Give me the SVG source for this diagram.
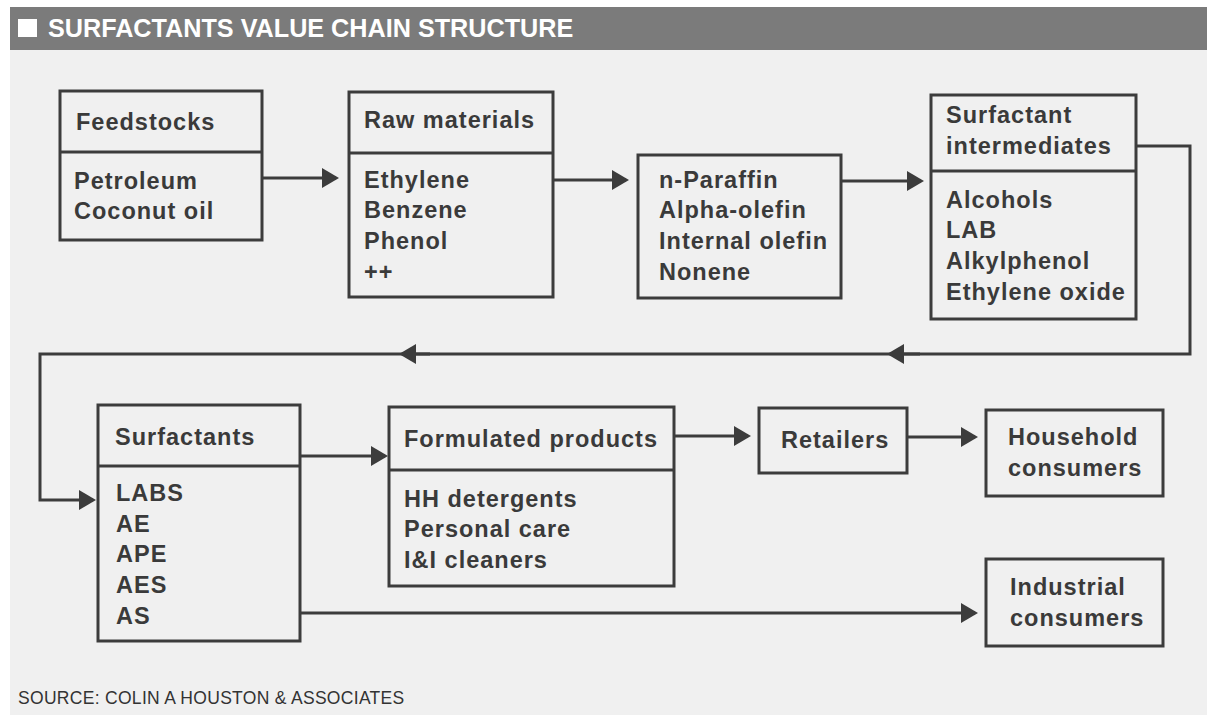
<svg xmlns="http://www.w3.org/2000/svg" width="1207" height="715" viewBox="0 0 1207 715">
  <style>
    .box { fill: none; stroke: #3c3c3c; stroke-width: 3; }
    .div { stroke: #3c3c3c; stroke-width: 3; }
    .t { font-family: "Liberation Sans", Arial, sans-serif; font-size: 23.5px; font-weight: bold; fill: #3a3a3a; letter-spacing: 1px; }
    .conn { fill: none; stroke: #3c3c3c; stroke-width: 3; }
    .title { font-family: "Liberation Sans", Arial, sans-serif; font-size: 25.2px; font-weight: bold; fill: #ffffff; }
    .src { font-family: "Liberation Sans", Arial, sans-serif; font-size: 17.5px; fill: #333; letter-spacing: 0.3px; }
  </style>
  <defs>
    <marker id="ah" markerUnits="userSpaceOnUse" markerWidth="17" markerHeight="20" refX="14" refY="10" orient="auto">
      <path d="M0,0 L17,10 L0,20 z" fill="#3c3c3c"/>
    </marker>
  </defs>
  <rect x="0" y="0" width="1207" height="715" fill="#ffffff"/>
  <rect x="10" y="50" width="1197" height="665" fill="#f0f0f0"/>
  <g id="header">
    <rect x="10" y="7" width="1197" height="43" fill="#7b7b7b"/>
    <rect x="18" y="19" width="19" height="18" fill="#ffffff"/>
    <text class="title" x="48" y="37">SURFACTANTS VALUE CHAIN STRUCTURE</text>
  </g>

  <g id="connectors">
    <line class="conn" x1="263" y1="178" x2="336" y2="178" marker-end="url(#ah)"/>
    <line class="conn" x1="554" y1="180" x2="626" y2="180" marker-end="url(#ah)"/>
    <line class="conn" x1="842" y1="181" x2="921" y2="181" marker-end="url(#ah)"/>
    <path class="conn" d="M1137,146 H1190 V354 H40 V500 H93" marker-end="url(#ah)"/>
    <line class="conn" x1="920" y1="354" x2="890" y2="354" marker-end="url(#ah)"/>
    <line class="conn" x1="430" y1="354" x2="402" y2="354" marker-end="url(#ah)"/>
    <line class="conn" x1="301" y1="456" x2="385" y2="456" marker-end="url(#ah)"/>
    <line class="conn" x1="675" y1="436" x2="748" y2="436" marker-end="url(#ah)"/>
    <line class="conn" x1="908" y1="437" x2="975" y2="437" marker-end="url(#ah)"/>
    <line class="conn" x1="301" y1="613" x2="975" y2="613" marker-end="url(#ah)"/>
  </g>

  <g id="feedstocks">
    <rect class="box" x="60" y="91" width="202" height="149"/>
    <line class="div" x1="60" y1="152" x2="262" y2="152"/>
    <text class="t" x="76" y="130">Feedstocks</text>
    <text class="t" x="74" y="189">Petroleum</text>
    <text class="t" x="74" y="219">Coconut oil</text>
  </g>

  <g id="raw-materials">
    <rect class="box" x="349" y="92" width="204" height="205"/>
    <line class="div" x1="349" y1="153" x2="553" y2="153"/>
    <text class="t" x="364" y="128">Raw materials</text>
    <text class="t" x="364" y="188">Ethylene</text>
    <text class="t" x="364" y="218">Benzene</text>
    <text class="t" x="364" y="249">Phenol</text>
    <text class="t" x="364" y="280">++</text>
  </g>

  <g id="olefins">
    <rect class="box" x="638" y="155" width="203" height="143"/>
    <text class="t" x="659" y="188">n-Paraffin</text>
    <text class="t" x="659" y="218">Alpha-olefin</text>
    <text class="t" x="659" y="249">Internal olefin</text>
    <text class="t" x="659" y="280">Nonene</text>
  </g>

  <g id="intermediates">
    <rect class="box" x="931" y="95" width="205" height="224"/>
    <line class="div" x1="931" y1="171" x2="1136" y2="171"/>
    <text class="t" x="946" y="123">Surfactant</text>
    <text class="t" x="946" y="154">intermediates</text>
    <text class="t" x="946" y="208">Alcohols</text>
    <text class="t" x="946" y="238">LAB</text>
    <text class="t" x="946" y="269">Alkylphenol</text>
    <text class="t" x="946" y="300">Ethylene oxide</text>
  </g>

  <g id="surfactants">
    <rect class="box" x="98" y="405" width="202" height="236"/>
    <line class="div" x1="98" y1="466" x2="300" y2="466"/>
    <text class="t" x="115" y="445">Surfactants</text>
    <text class="t" x="116" y="501">LABS</text>
    <text class="t" x="116" y="532">AE</text>
    <text class="t" x="116" y="562">APE</text>
    <text class="t" x="116" y="593">AES</text>
    <text class="t" x="116" y="624">AS</text>
  </g>

  <g id="formulated-products">
    <rect class="box" x="389" y="407" width="285" height="179"/>
    <line class="div" x1="389" y1="470" x2="674" y2="470"/>
    <text class="t" x="404" y="447">Formulated products</text>
    <text class="t" x="404" y="507">HH detergents</text>
    <text class="t" x="404" y="537">Personal care</text>
    <text class="t" x="404" y="568">I&amp;I cleaners</text>
  </g>

  <g id="retailers">
    <rect class="box" x="759" y="408" width="148" height="65"/>
    <text class="t" x="781" y="448">Retailers</text>
  </g>

  <g id="household-consumers">
    <rect class="box" x="986" y="410" width="177" height="86"/>
    <text class="t" x="1008" y="445">Household</text>
    <text class="t" x="1008" y="476">consumers</text>
  </g>

  <g id="industrial-consumers">
    <rect class="box" x="986" y="559" width="177" height="87"/>
    <text class="t" x="1010" y="595">Industrial</text>
    <text class="t" x="1010" y="626">consumers</text>
  </g>

  <text class="src" x="18" y="704">SOURCE: COLIN A HOUSTON &amp; ASSOCIATES</text>
</svg>
